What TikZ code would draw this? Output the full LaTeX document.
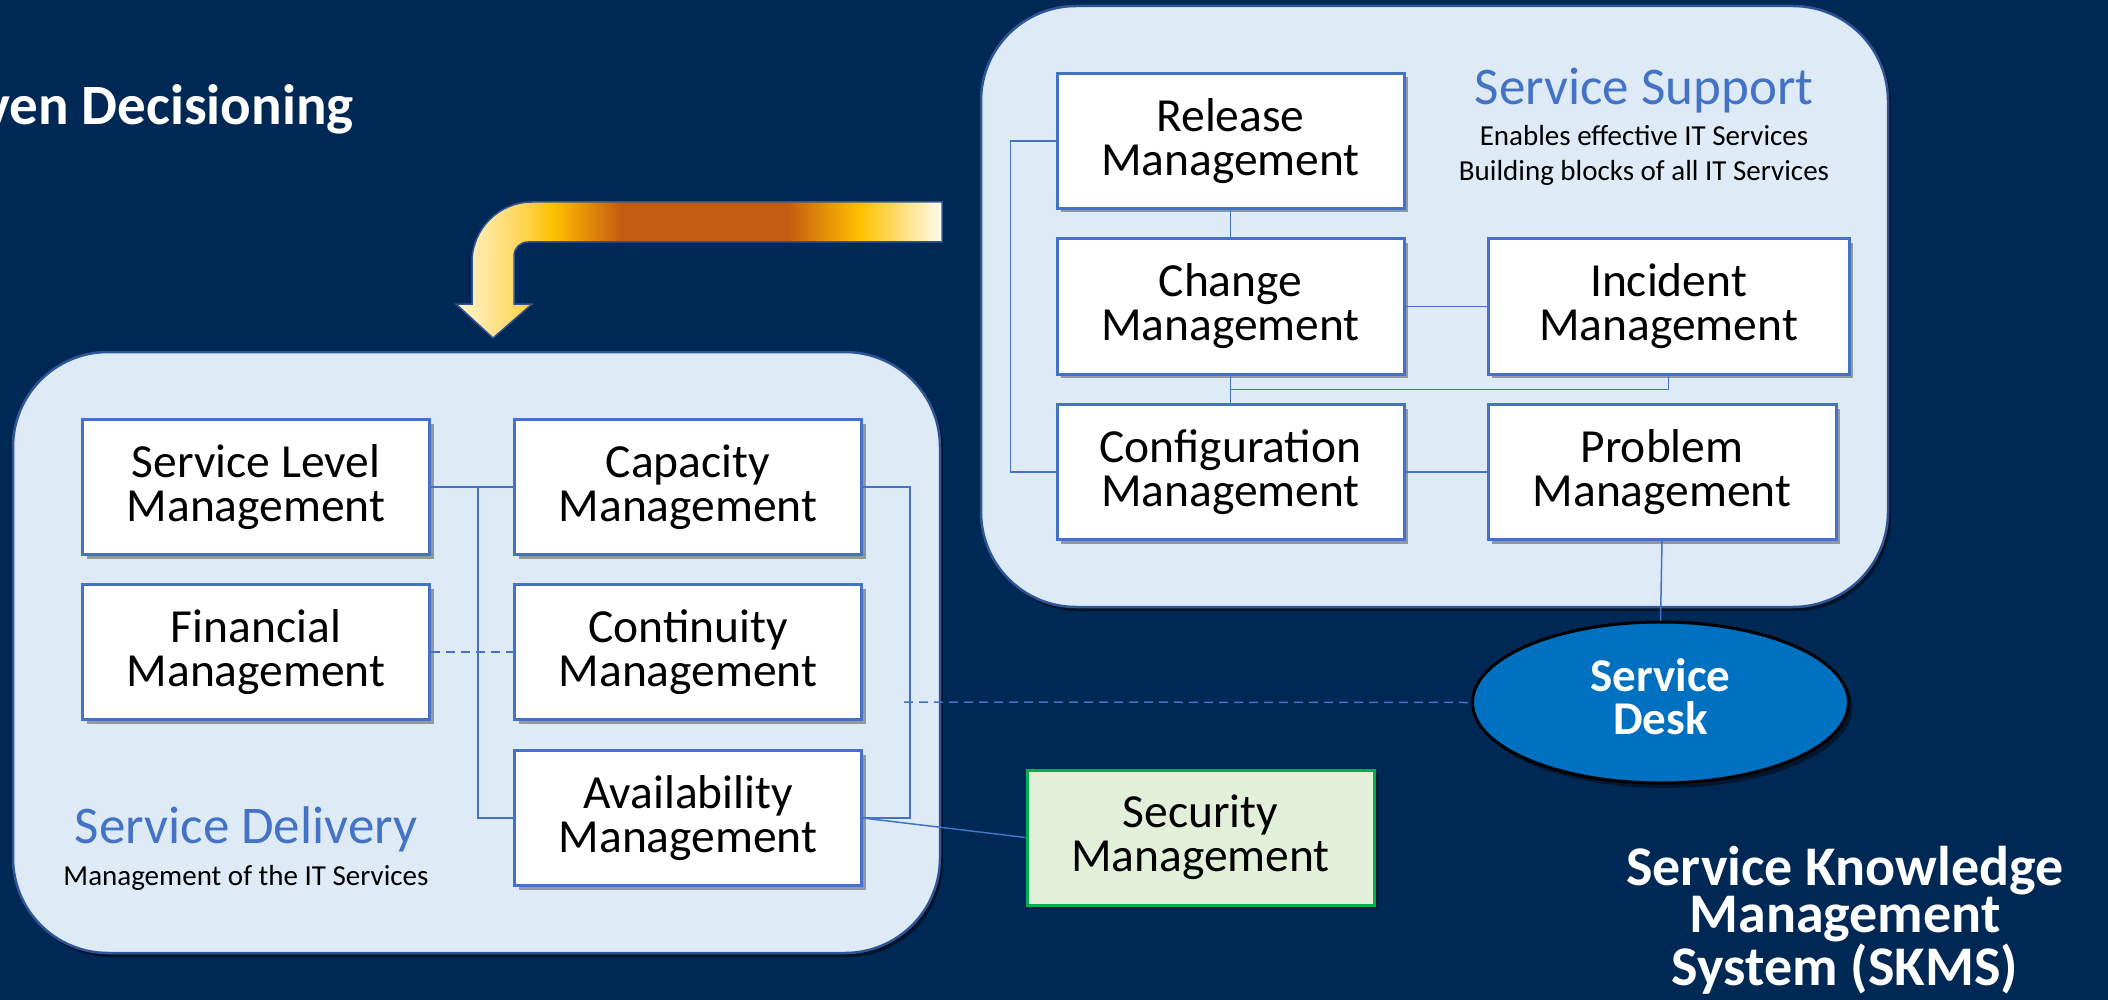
\documentclass[tikz,border=0pt]{standalone}
\usepackage{fontspec}
\setmainfont{Carlito}
\usetikzlibrary{shapes.geometric,shadows,calc}

\definecolor{bg}{RGB}{0,40,85}
\definecolor{panel}{RGB}{222,235,247}
\definecolor{panelborder}{RGB}{47,85,151}
\definecolor{boxborder}{RGB}{68,114,196}
\definecolor{titleblue}{RGB}{68,114,196}
\definecolor{deskblue}{RGB}{0,112,192}
\definecolor{secfill}{RGB}{226,240,217}
\definecolor{secborder}{RGB}{0,176,80}
\definecolor{arA}{RGB}{255,244,212}
\definecolor{arB}{RGB}{255,217,102}
\definecolor{arC}{RGB}{255,192,0}
\definecolor{arD}{RGB}{197,90,17}
\definecolor{arE}{RGB}{255,251,240}

\pgfdeclarehorizontalshading{arrowshade}{100bp}{color(0bp)=(arA); color(25bp)=(arA); color(31bp)=(arB); color(35bp)=(arC); color(42bp)=(arD); color(59bp)=(arD); color(66.5bp)=(arC); color(75bp)=(arE); color(100bp)=(arE)}

\tikzset{
  panelbox/.style={draw=panelborder, line width=2.5pt, fill=panel, rounded corners=95pt, inner sep=0pt,
    drop shadow={shadow xshift=3pt, shadow yshift=-4pt, opacity=0.5, fill=black}},
  mgmtbox/.style={draw=boxborder, line width=3pt, fill=white, minimum width=347pt, minimum height=135pt,
    inner sep=0pt, align=center, font=\fontsize{47.5}{44}\selectfont,
    drop shadow={shadow xshift=4pt, shadow yshift=-4pt, opacity=0.35, fill=black}},
  secbox/.style={mgmtbox, draw=secborder, fill=secfill},
  link/.style={draw=boxborder, line width=1.5pt},
  dlink/.style={link, dash pattern=on 9pt off 6pt},
  titletext/.style={anchor=base, inner sep=0pt, text=titleblue, font=\fontsize{53}{60}\selectfont},
  subtext/.style={anchor=base, inner sep=0pt, text=black, font=\fontsize{29}{35}\selectfont},
}

\begin{document}
\begin{tikzpicture}[x=1pt,y=-1pt]
\useasboundingbox (0,0) rectangle (2108,1000);
\fill[bg] (0,0) rectangle (2108,1000);

% heading (cut at left edge)
\node[anchor=base east, inner sep=0pt, text=white, font=\bfseries\fontsize{57}{60}\selectfont] (heading) at (354,125) {ven Decisioning};

% containers
\node[panelbox, minimum width=907pt, minimum height=601pt] (support) at (1434.5,306.5) {};
\node[panelbox, minimum width=927pt, minimum height=601pt] (delivery) at (476.5,652.5) {};

% bent arrow
\shadedraw[shading=arrowshade, draw=panelborder, line width=1.5pt]
  (942,202) -- (532,202) .. controls (499,202) and (472,229) .. (472,262)
  -- (472,304) -- (456,304) -- (493,338) -- (532,304) -- (514,304) -- (514,256)
  .. controls (514,248) and (520,242) .. (528,242) -- (942,242) -- cycle;

% Service Support titles
\node[titletext] (sstitle) at (1644,105) {Service Support};
\node[subtext] (sssub1) at (1644,146) {Enables effective IT Services};
\node[subtext] (sssub2) at (1644,181) {Building blocks of all IT Services};

% Service Delivery titles
\node[titletext] (sdtitle) at (246,843) {Service Delivery};
\node[subtext] (sdsub) at (246,885) {Management of the IT Services};

% Service Support boxes
\node[mgmtbox] (rel) at (1230.5,141) {Release\\Management};
\node[mgmtbox] (chg) at (1230.5,306.5) {Change\\Management};
\node[mgmtbox] (conf) at (1230.5,472) {Configuration\\Management};
\node[mgmtbox, minimum width=361pt] (inc) at (1668.5,306.5) {Incident\\Management};
\node[mgmtbox, minimum width=348pt] (prob) at (1662,472) {Problem\\Management};

% Service Delivery boxes
\node[mgmtbox] (sl) at (256,487) {Service Level\\Management};
\node[mgmtbox] (cap) at (688,487) {Capacity\\Management};
\node[mgmtbox] (fin) at (256,652) {Financial\\Management};
\node[mgmtbox] (cont) at (688,652) {Continuity\\Management};
\node[mgmtbox] (avail) at (688,818) {Availability\\Management};

% Security
\node[secbox] (sec) at (1200.5,837.5) {Security\\Management};

% Service Desk
\node[ellipse, draw=black, line width=3pt, fill=deskblue, minimum width=376pt, minimum height=161pt,
  inner sep=0pt, drop shadow={shadow xshift=4pt, shadow yshift=-5pt, opacity=0.45, fill=black}] (desk) at (1660.5,702.5) {};
\node[inner sep=0pt, text=white, align=center, font=\bfseries\fontsize{47}{43}\selectfont] (desktext) at ([yshift=6pt]desk.center) {Service\\Desk};

% SKMS
\node[inner sep=0pt, text=white, align=center, font=\bfseries\fontsize{56}{47.5}\selectfont] (skms) at (1845,920) {Service Knowledge\\Management\\System (SKMS)};

% connectors - delivery
\draw[link] (sl.east) -- (cap.west);
\coordinate (slj) at ($(sl.east)+(47,0)$);
\draw[link] (slj) |- (avail.west);
\draw[link] (cap.east) -- ++(47,0) |- (avail.east);
\draw[dlink] (fin.east) -- (cont.west);
\coordinate (dstart) at (904,702);
\draw[dlink] (dstart) -- (desk.west);
\draw[link] (avail.east) -- (sec.west);

% connectors - support
\draw[link] (rel.south) -- (chg.north);
\draw[link] (chg.south) -- (conf.north);
\draw[link] (chg.east) -- (inc.west);
\draw[link] (inc.south) |- ($(chg.south)!0.5!(conf.north)$);
\draw[link] (conf.east) -- (prob.west);
\draw[link] (rel.west) -- ++(-45,0) |- (conf.west);
\draw[link] (prob.south) -- (desk.north);
\end{tikzpicture}
\end{document}
